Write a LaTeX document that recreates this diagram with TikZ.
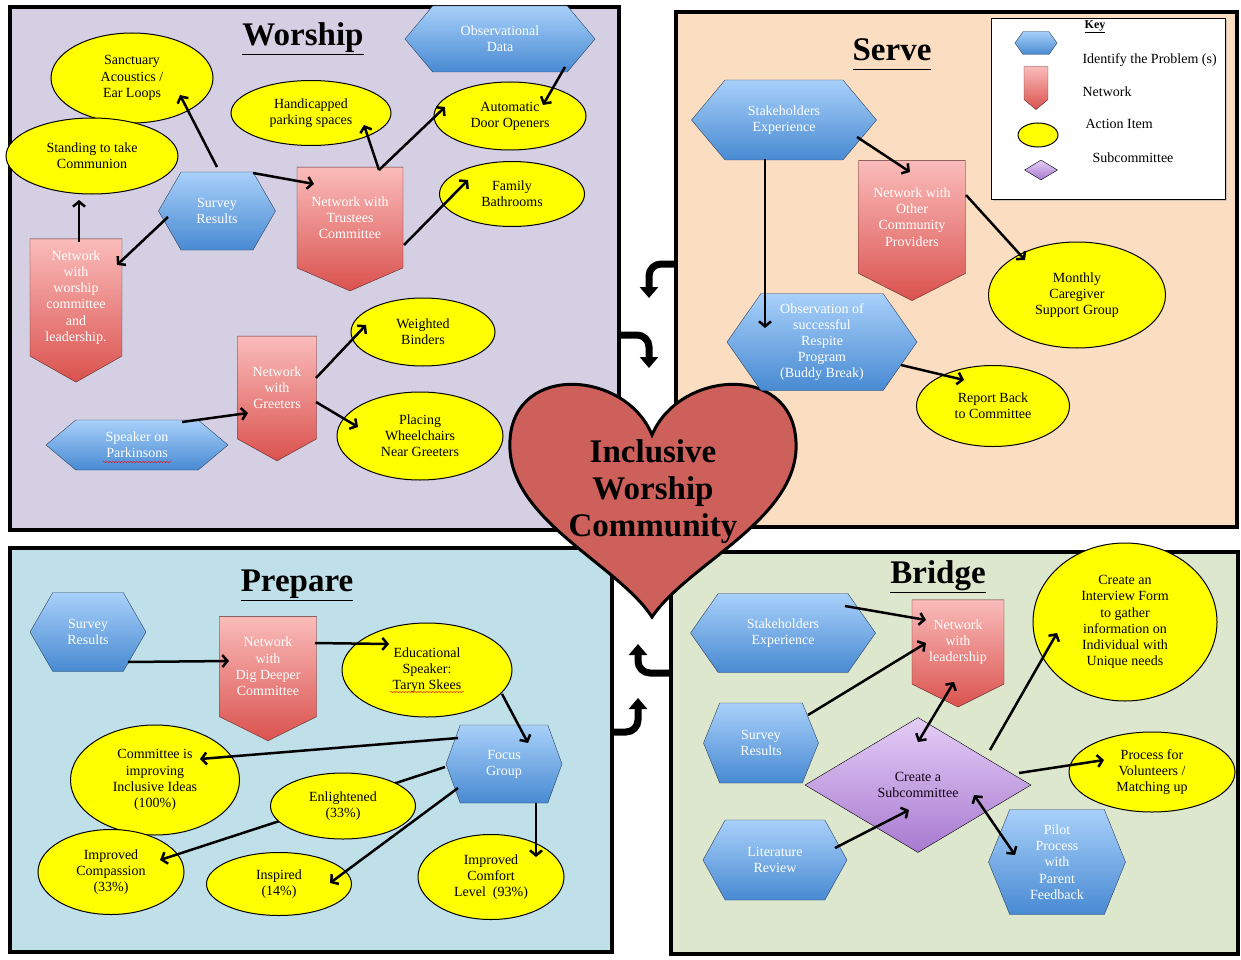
\documentclass[tikz,border=0pt]{standalone}
\usepackage{fontspec}
\setmainfont{Liberation Serif}
\usetikzlibrary{shapes.geometric,shapes.symbols,arrows.meta,shadows,decorations.pathmorphing}

\definecolor{worshipBg}{RGB}{213,207,227}
\definecolor{serveBg}{RGB}{251,221,194}
\definecolor{prepareBg}{RGB}{191,224,232}
\definecolor{bridgeBg}{RGB}{221,231,206}
\definecolor{hexTop}{RGB}{168,208,250}
\definecolor{hexBot}{RGB}{72,138,210}
\definecolor{hexLine}{RGB}{45,65,95}
\definecolor{netTop}{RGB}{250,188,186}
\definecolor{netBot}{RGB}{218,82,78}
\definecolor{netLine}{RGB}{90,40,40}
\definecolor{subTop}{RGB}{228,205,246}
\definecolor{subBot}{RGB}{168,122,208}
\definecolor{actYellow}{RGB}{255,255,0}
\definecolor{heartRed}{RGB}{205,96,90}

\newcommand{\nodefont}{\fontsize{14}{16.2}\selectfont}
\newcommand{\titlefont}{\fontsize{33}{38}\selectfont\bfseries}
\newcommand{\heartfont}{\fontsize{33}{37}\selectfont\bfseries}

\begin{document}
\begin{tikzpicture}[x=1pt, y=-1pt, >={Straight Barb[length=5pt,width=12pt]},
  every node/.style={align=center, font=\nodefont},
  panel/.style={draw, line width=4pt, inner sep=0pt,
    drop shadow={opacity=.3, shadow xshift=2pt, shadow yshift=-2pt}},
  title/.style={font=\titlefont},
  problem/.style={shape=signal, signal to=east and west, signal pointer angle=110,
    draw=hexLine, top color=hexTop, bottom color=hexBot, text=white, inner sep=1pt},
  network/.style={shape=signal, signal to=south, signal pointer angle=125,
    draw=netLine, top color=netTop, bottom color=netBot, text=white, inner sep=1pt},
  action/.style={ellipse, draw, line width=1pt, fill=actYellow, inner sep=0pt},
  subcom/.style={diamond, draw, top color=subTop, bottom color=subBot, inner sep=0pt},
  link/.style={->, line width=2.5pt},
  twoway/.style={<->, line width=2.5pt},
  flow/.style={line width=7pt, rounded corners=12pt, -{Triangle[width=18pt,length=11pt]}},
  squiggle/.style={red, thin, decorate, decoration={snake, amplitude=.6pt, segment length=3pt}}]

\useasboundingbox (0,0) rectangle (1241,960);
\fill[white] (0,0) rectangle (1241,960);

\node[panel, fill=worshipBg, minimum width=609, minimum height=523] (worship) at (314.5,268.5) {};
\node[panel, fill=serveBg, minimum width=561, minimum height=515] (serve) at (956.5,269.5) {};
\node[panel, fill=prepareBg, minimum width=602, minimum height=404] (prepare) at (311,750) {};
\node[panel, fill=bridgeBg, minimum width=567, minimum height=402] (bridge) at (954.5,753) {};

\coordinate (tipA) at (649,298);
\coordinate (tipB) at (649,368);
\coordinate (tipC) at (638,644);
\coordinate (tipD) at (638,698);
\draw[flow] (serve.west |- 0,264) -| (tipA);
\draw[flow] (worship.east |- 0,335) -| (tipB);
\draw[flow] (bridge.west |- 0,673) -| (tipC);
\draw[flow] (prepare.east |- 0,732) -| (tipD);

\draw[fill=heartRed, line width=3pt] (652,435) .. controls (625,368) and (505,362) .. (510,450)
  .. controls (514,522) and (618,565) .. (652,617)
  .. controls (687,565) and (792,522) .. (796,450)
  .. controls (800,362) and (680,368) .. (652,435) -- cycle;
\node[font=\heartfont] (heart) at (653,492) {Inclusive\\Worship\\Community};

\node[title] (tWorship) at (303,39) {\underline{\vphantom{p}Worship}};
\node[title] (tServe) at (892,54) {\underline{\vphantom{p}Serve}};
\node[title] (tPrepare) at (297,585) {\underline{\vphantom{p}Prepare}};
\node[title] (tBridge) at (938,577) {\underline{\vphantom{p}Bridge}};

\node[problem, minimum width=190, minimum height=66, signal pointer angle=100] (obs) at (500,39) {Observational\\Data};
\node[action, minimum width=162, minimum height=90] (sanct) at (132,78) {Sanctuary\\Acoustics /\\Ear Loops};
\node[action, minimum width=172, minimum height=76] (stand) at (92,156) {Standing to take\\Communion};
\node[action, minimum width=160, minimum height=65] (handi) at (311,113) {Handicapped\\parking spaces};
\node[action, minimum width=152, minimum height=68] (door) at (510,116) {Automatic\\Door Openers};
\node[action, minimum width=145, minimum height=65] (bath) at (512,194) {Family\\Bathrooms};
\node[problem, minimum width=117, minimum height=78, signal pointer angle=120] (wsurvey) at (217,211) {Survey\\Results};
\node[network, minimum width=106, minimum height=118, signal pointer angle=133] (trustees) at (350,217.5) {Network with\\Trustees\\Committee};
\node[network, minimum width=92, minimum height=135, signal pointer angle=121] (wnet) at (76,297.5) {Network\\with\\worship\\committee\\and\\leadership.};
\node[action, minimum width=144, minimum height=68] (binders) at (423,332) {Weighted\\Binders};
\node[action, minimum width=166, minimum height=88] (wheel) at (420,436) {Placing\\Wheelchairs\\Near Greeters};
\node[network, minimum width=79, minimum height=117, signal pointer angle=122] (greeters) at (277,387.5) {Network\\with\\Greeters};
\node[problem, minimum width=182, minimum height=50, signal pointer angle=80] (speaker) at (137,445) {Speaker on\\Parkinsons};
\draw[squiggle] ([shift={(-34,17)}]speaker.center) -- ([shift={(34,17)}]speaker.center);

\draw[link] ([shift={(0,-44)}]wsurvey.center) -- ([shift={(48,17)}]sanct.center);
\draw[link] ([shift={(-49,6)}]wsurvey.center) -- ([shift={(41,-32.5)}]wnet.center);
\draw[link] ([shift={(3,-55.5)}]wnet.center) -- ([shift={(-13,44)}]stand.center);
\draw[link] ([shift={(36,-38)}]wsurvey.center) -- ([shift={(-36,-33.5)}]trustees.center);
\draw[link] ([shift={(29,-47.5)}]trustees.center) -- ([shift={(53,12)}]handi.center);
\draw[link] ([shift={(29,-47.5)}]trustees.center) -- ([shift={(-65,-9)}]door.center);
\draw[link] ([shift={(54,27.5)}]trustees.center) -- ([shift={(-44,-14)}]bath.center);
\draw[link] ([shift={(65,28)}]obs.center) -- ([shift={(33,-11)}]door.center);
\draw[link] ([shift={(45,-23)}]speaker.center) -- ([shift={(-29,25.5)}]greeters.center);
\draw[link] ([shift={(39,-9.5)}]greeters.center) -- ([shift={(-57,-7)}]binders.center);
\draw[link] ([shift={(39,14.5)}]greeters.center) -- ([shift={(-62,-9)}]wheel.center);

\node[draw, fill=white, minimum width=234, minimum height=181,
  drop shadow={opacity=.3, shadow xshift=2pt, shadow yshift=-2pt}] (key) at (1108,108.5) {};
\node[font=\fontsize{12}{14}\selectfont\bfseries] (keyTitle) at (1095,27) {\underline{Key}};
\node[problem, minimum width=42, minimum height=23, inner sep=0pt] (keyProblem) at (1036,43) {};
\node[anchor=west] (keyProblemText) at (1079,60) {Identify the Problem (s)};
\node[network, minimum width=24, minimum height=33, inner sep=0pt, signal pointer angle=100] (keyNetwork) at (1036,83) {};
\node[anchor=west] (keyNetworkText) at (1079,92) {Network};
\node[action, minimum width=40, minimum height=24] (keyAction) at (1038,135) {};
\node[anchor=west] (keyActionText) at (1082,124) {Action Item};
\node[subcom, minimum width=33, minimum height=20] (keySub) at (1041,170) {};
\node[anchor=west] (keySubText) at (1089,158) {Subcommittee};

\node[problem, minimum width=185, minimum height=80, signal pointer angle=100] (stake) at (784,120) {Stakeholders\\Experience};
\node[network, minimum width=107, minimum height=133, signal pointer angle=126] (other) at (912,217) {Network with\\Other\\Community\\Providers};
\node[action, minimum width=177, minimum height=106] (monthly) at (1077,295) {Monthly\\Caregiver\\Support Group};
\node[problem, minimum width=190, minimum height=97, signal pointer angle=110] (respite) at (822,342) {Observation of\\successful\\Respite\\Program\\(Buddy Break)};
\node[action, minimum width=153, minimum height=81] (report) at (993,406) {Report Back\\to Committee};

\draw[link] ([shift={(73,17)}]stake.center) -- ([shift={(-2,-45)}]other.center);
\draw[link] ([shift={(-19,39)}]stake.center) -- ([shift={(-57,-14)}]respite.center);
\draw[link] ([shift={(54,-22)}]other.center) -- ([shift={(-52,-35)}]monthly.center);
\draw[link] ([shift={(79,23)}]respite.center) -- ([shift={(-29,-26)}]report.center);

\node[problem, minimum width=116, minimum height=79, signal pointer angle=120] (psurvey) at (88,632) {Survey\\Results};
\node[network, minimum width=97, minimum height=117, signal pointer angle=127] (dig) at (268,666.5) {Network\\with\\Dig Deeper\\Committee};
\node[action, minimum width=170, minimum height=94] (edu) at (427,670) {Educational\\Speaker:\\Taryn Skees};
\draw[squiggle] ([shift={(-37,22)}]edu.center) -- ([shift={(37,22)}]edu.center);
\node[problem, minimum width=116, minimum height=78, signal pointer angle=140] (focus) at (504,764) {Focus\\Group};
\node[action, minimum width=169, minimum height=110] (committee) at (155,780) {Committee is\\improving\\Inclusive Ideas\\(100\%)};
\node[action, minimum width=146, minimum height=85] (compassion) at (111,872) {Improved\\Compassion\\(33\%)};
\draw[link] ([shift={(-59,3)}]focus.center) -- ([shift={(49,-12)}]compassion.center);
\node[action, minimum width=145, minimum height=66] (enlight) at (343,806) {Enlightened\\(33\%)};
\node[action, minimum width=145, minimum height=63] (inspired) at (279,884) {Inspired\\(14\%)};
\node[action, minimum width=146, minimum height=85] (comfort) at (491,877) {Improved\\Comfort\\Level\ \ (93\%)};

\draw[link] ([shift={(40,30)}]psurvey.center) -- ([shift={(-39,-5.5)}]dig.center);
\draw[link] ([shift={(47,-23.5)}]dig.center) -- ([shift={(-38,-26)}]edu.center);
\draw[link] ([shift={(75,24)}]edu.center) -- ([shift={(24,-21)}]focus.center);
\draw[link] ([shift={(-46,-26)}]focus.center) -- ([shift={(45,-21)}]committee.center);
\draw[link] ([shift={(-46,24)}]focus.center) -- ([shift={(51,-1)}]inspired.center);
\draw[link] ([shift={(32,39)}]focus.center) -- ([shift={(45,-20)}]comfort.center);

\node[problem, minimum width=185, minimum height=79, signal pointer angle=110] (bstake) at (783,633) {Stakeholders\\Experience};
\node[network, minimum width=92, minimum height=99, signal pointer angle=127] (lead) at (958,642) {Network\\with\\leadership};
\node[action, minimum width=184, minimum height=158] (interview) at (1125,622) {Create an\\Interview Form\\to gather\\information on\\Individual with\\Unique needs};
\node[problem, minimum width=115, minimum height=80, signal pointer angle=136] (bsurvey) at (761,743) {Survey\\Results};
\node[subcom, minimum width=226, minimum height=135, text=black!85!violet] (sub) at (918,785) {Create a\\Subcommittee};
\node[action, minimum width=166, minimum height=80] (process) at (1152,772) {Process for\\Volunteers /\\Matching up};
\node[problem, minimum width=144, minimum height=80, signal pointer angle=122] (lit) at (775,860) {Literature\\Review};
\node[problem, minimum width=137, minimum height=105, signal pointer angle=136] (pilot) at (1057,862) {Pilot\\Process\\with\\Parent\\Feedback};

\draw[link] ([shift={(62,-27)}]bstake.center) -- ([shift={(-32,-22)}]lead.center);
\draw[link] ([shift={(47,-28)}]bsurvey.center) -- ([shift={(-32,1)}]lead.center);
\draw[twoway] ([shift={(-4,40)}]lead.center) -- ([shift={(0,-43)}]sub.center);
\draw[link] ([shift={(72,-35)}]sub.center) -- ([shift={(-68,11)}]interview.center);
\draw[link] ([shift={(101,-12)}]sub.center) -- ([shift={(-48,-12)}]process.center);
\draw[link] ([shift={(60,-12)}]lit.center) -- ([shift={(-9,25)}]sub.center);
\draw[twoway] ([shift={(56,10)}]sub.center) -- ([shift={(-42,-7)}]pilot.center);
\end{tikzpicture}
\end{document}
